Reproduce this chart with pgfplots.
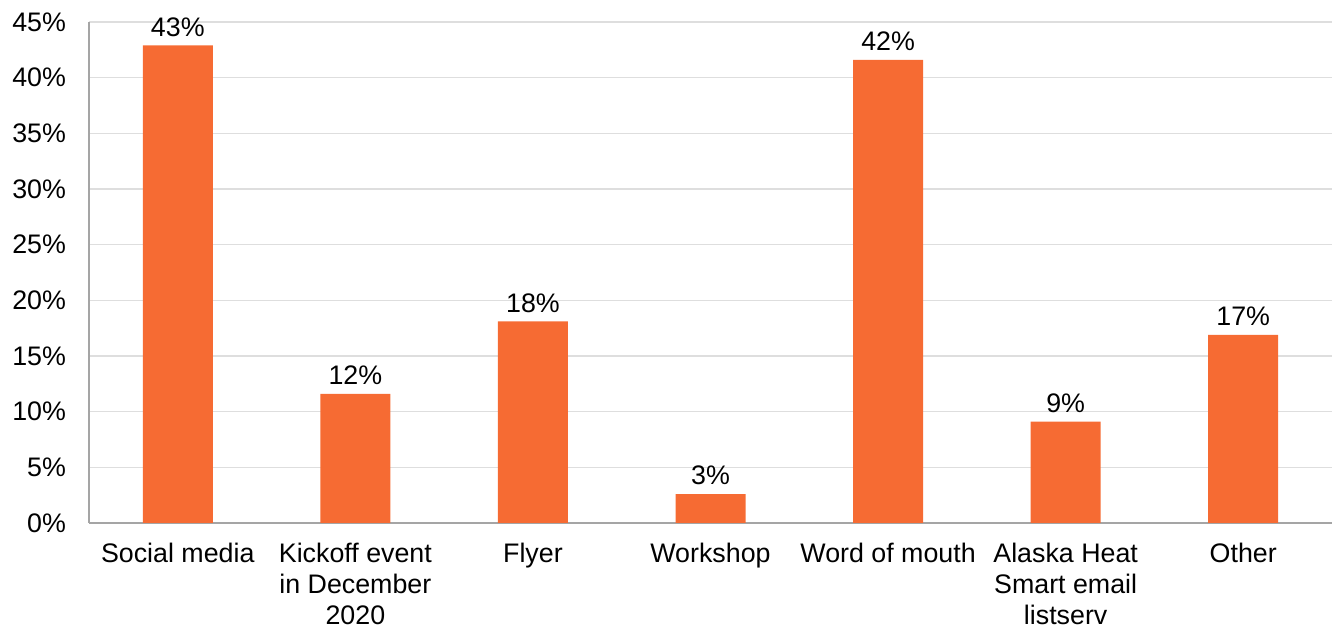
\documentclass[border=0pt]{standalone}
\usepackage{pgfplots}
\pgfplotsset{compat=1.18}
\usepackage{pgfplotstable}
\usepackage{fontspec}
\setmainfont{Liberation Sans}
\usetikzlibrary{calc}

\definecolor{barorange}{RGB}{246,107,51}
\definecolor{gridgray}{RGB}{222,222,222}
\definecolor{axisgray}{RGB}{165,165,165}

% x = category index, y = share in percent, lab = label above the bar
\pgfplotstableread{
x y lab
0 42.9 43
1 11.6 12
2 18.1 18
3 2.6 3
4 41.6 42
5 9.1 9
6 16.9 17
}\sources

\begin{document}
\begin{tikzpicture}
\begin{axis}[
  name=ax,
  scale only axis,
  width=621.5pt, height=250.5pt,
  xmin=-0.5, xmax=6.5,
  ymin=0, ymax=45,
  axis x line*=bottom, axis y line*=left,
  axis line style={axisgray, line width=0.8pt, -},
  ymajorgrids, grid style={gridgray, line width=0.8pt},
  major tick length=0pt,
  ytick={0,5,...,45},
  yticklabels={0\%,5\%,10\%,15\%,20\%,25\%,30\%,35\%,40\%,45\%},
  xtick=data,
  xticklabels={Social media, {Kickoff event\\in December\\2020}, Flyer, Workshop,
    Word of mouth, {Alaska Heat\\Smart email\\listserv}, Other},
  tick label style={font=\fontsize{13.4}{15.6}\selectfont},
  xticklabel style={align=center, yshift=-6.5pt},
  yticklabel style={xshift=-8pt},
  ybar, bar width=35pt,
  nodes near coords={\pgfplotspointmeta\%},
  point meta=explicit symbolic,
  every node near coord/.append style={font=\fontsize{13.4}{16}\selectfont, black, yshift=1pt},
  clip=false,
]
\addplot[fill=barorange, draw=none] table[x=x, y=y, meta=lab] {\sources};
\end{axis}
\pgfresetboundingbox
\path[use as bounding box] ($(ax.south west)+(-44.5pt,-55pt)$) rectangle ($(ax.north east)+(0pt,11pt)$);
\end{tikzpicture}
\end{document}
